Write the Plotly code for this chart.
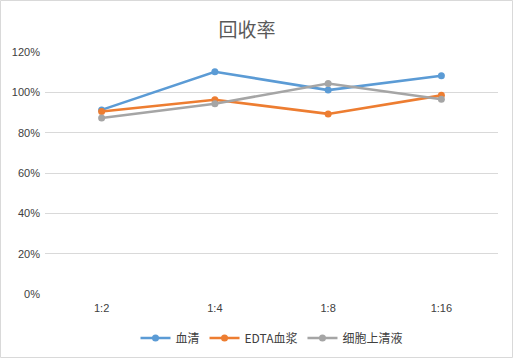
import plotly.graph_objects as go

categories = ["1:2", "1:4", "1:8", "1:16"]
serum = [0.913, 1.102, 1.011, 1.082]
edta_plasma = [0.905, 0.963, 0.893, 0.985]
cell_supernatant = [0.873, 0.943, 1.044, 0.966]
series_names = ["血清", "EDTA血浆", "细胞上清液"]
colors = ["#5B9BD5", "#ED7D31", "#A5A5A5"]
y_ticks = [0, 0.2, 0.4, 0.6, 0.8, 1.0, 1.2]

fig = go.Figure()
for name, vals, col in zip(series_names, [serum, edta_plasma, cell_supernatant], colors):
    fig.add_trace(go.Scatter(
        x=list(range(len(categories))), y=vals, name=name, mode="lines+markers",
        line=dict(color=col, width=2.6), marker=dict(color=col, size=7),
    ))

W, H = 513, 358
L, R, T, B = 45, 15, 52, 64
pw, ph = W - L - R, H - T - B

fig.update_layout(
    width=W, height=H,
    margin=dict(l=L, r=R, t=T, b=B, autoexpand=False),
    paper_bgcolor="white", plot_bgcolor="white",
    font=dict(family="Noto Sans CJK SC, Liberation Sans, sans-serif", size=11, color="#595959"),
    title=dict(text="回收率", x=247 / W, xref="container", xanchor="center",
               y=1 - 30 / H, yanchor="middle",
               font=dict(size=19, color="#595959", family="Noto Sans CJK SC")),
    xaxis=dict(range=[-0.5, 3.5], tickvals=list(range(len(categories))), ticktext=categories,
               showgrid=False, zeroline=False, showline=False, ticks="", ticklabelstandoff=6,
               tickfont=dict(size=11, color="#404040", family="Liberation Sans")),
    yaxis=dict(range=[0, 1.2], tickvals=y_ticks, tickformat=".0%", showgrid=True,
               gridcolor="#D9D9D9", gridwidth=1, zeroline=False, showline=False, ticks="",
               ticklabelstandoff=4,
               tickfont=dict(size=11, color="#404040", family="Liberation Sans")),
    showlegend=True,
    legend=dict(orientation="h", x=0.5, xanchor="center", y=-(338 - 294) / ph, yanchor="middle",
                font=dict(size=12, color="#404040", family="Noto Sans CJK SC"),
                tracegroupgap=0, itemwidth=30),
    shapes=[dict(type="rect", xref="paper", yref="paper",
                 x0=(0.5 - L) / pw, x1=(W - 0.5 - L) / pw,
                 y0=-(B - 0.5) / ph, y1=(H - B - 0.5) / ph,
                 line=dict(color="#D9D9D9", width=1), layer="below")],
)
fig.write_html("out.html", config={"displayModeBar": False},
               post_script="document.body.style.margin='0';document.body.style.overflow='hidden';")
